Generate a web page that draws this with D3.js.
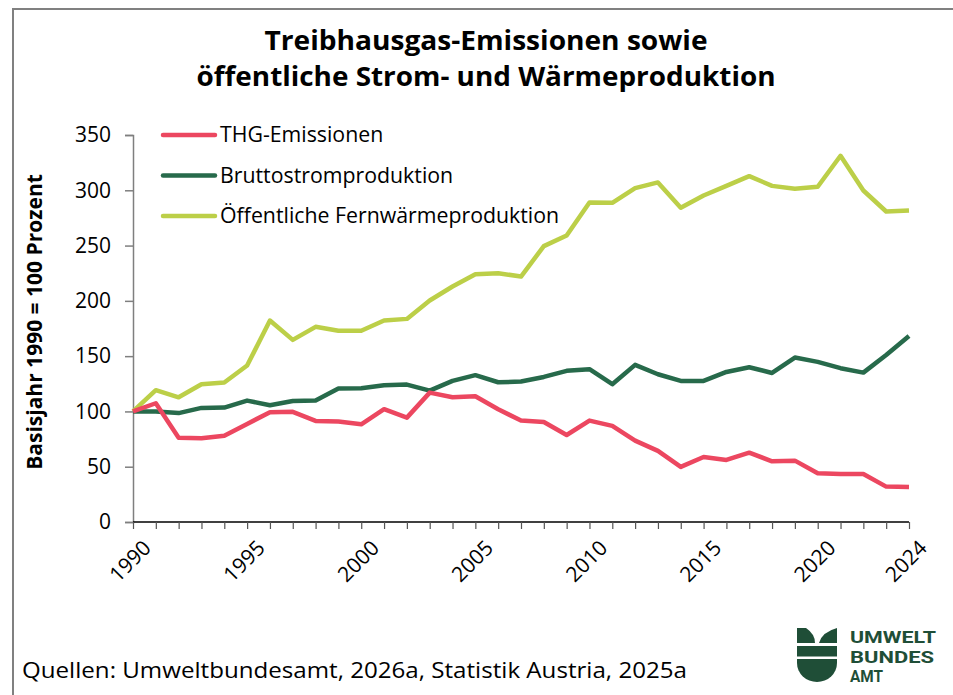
<!DOCTYPE html>
<html>
<head>
<meta charset="utf-8">
<script src="https://cdn.jsdelivr.net/npm/d3@7"></script>
<style>
  body { margin: 0; background: #fff; }
  svg { display: block; font-family: 'Open Sans', sans-serif; }
</style>
</head>
<body>
<svg width="953" height="695"></svg>
<script>
const years = d3.range(1990, 2025);
const thg = [100, 107.4, 76.3, 75.7, 78.1, 88.7, 99.3, 99.6, 91.4, 90.8, 88.4, 102, 94.4, 117, 112.8, 113.7, 102,
  91.7, 90.5, 78.7, 91.7, 86.9, 73.6, 64.3, 49.8, 58.8, 56.1, 62.7, 54.9, 55.5, 44.1, 43.4, 43.4, 32, 31.7];
const brutto = [100, 100, 98.5, 103.2, 103.5, 109.8, 105.6, 109.5, 109.8, 120.7, 121, 123.7, 124.3, 118.8, 127.6, 132.8, 126.4,
  127, 131.2, 136.7, 138.2, 124.6, 142.1, 133.6, 127.6, 127.6, 135.7, 140, 134.8, 148.7, 144.8, 139.1, 135.1, 151.1, 168.3];
const fern = [100, 119.2, 112.8, 124.6, 126.1, 141.5, 182.2, 164.7, 176.5, 172.9, 172.9, 182.2, 183.7,
  200.3, 213, 224.1, 225, 222, 249.5, 259.1, 289, 288.7, 302, 307.1, 284.2, 295.3, 304, 312.8, 304, 301.4, 303.2, 331.2, 299.8, 280.8, 281.7];
const seriesNames = ['THG-Emissionen', 'Bruttostromproduktion', 'Öffentliche Fernwärmeproduktion'];
const seriesColors = ['#ec4760', '#276a4b', '#bccf48'];
const yTicks = [0, 50, 100, 150, 200, 250, 300, 350];
const xLabels = [1990, 1995, 2000, 2005, 2010, 2015, 2020, 2024];

const svg = d3.select('svg');

// frame lines (top and left)
svg.append('line').attr('x1', 13).attr('x2', 953).attr('y1', 9).attr('y2', 9)
  .attr('stroke', '#808080').attr('stroke-width', 2);
svg.append('line').attr('x1', 13).attr('x2', 13).attr('y1', 8).attr('y2', 695)
  .attr('stroke', '#808080').attr('stroke-width', 2);

// title
const title = ['Treibhausgas-Emissionen sowie', 'öffentliche Strom- und Wärmeproduktion'];
const titleWidths = [443, 579];
title.forEach((t, i) => {
  svg.append('text')
    .attr('x', 486).attr('y', 50 + i * 36)
    .attr('text-anchor', 'middle')
    .attr('font-size', 26).attr('font-weight', 700)
    .attr('textLength', titleWidths[i]).attr('lengthAdjust', 'spacingAndGlyphs')
    .attr('fill', '#000')
    .text(t);
});

const x = d3.scaleLinear().domain([1990, 2024]).range([133, 909]);
const y = d3.scaleLinear().domain([0, 350]).range([522, 135]);

// y axis
const yAxisG = svg.append('g')
  .attr('transform', 'translate(133,0)')
  .call(d3.axisLeft(y).tickValues(yTicks).tickSize(8).tickPadding(14));
yAxisG.select('.domain').attr('stroke', '#7f7f7f').attr('stroke-width', 1.5);
yAxisG.selectAll('.tick line').attr('stroke', '#7f7f7f').attr('stroke-width', 1.5);
yAxisG.selectAll('.tick text').attr('font-size', 21).attr('fill', '#000')
  .attr('font-family', "'Open Sans', sans-serif");

svg.append('text')
  .attr('transform', 'translate(42,322) rotate(-90)')
  .attr('text-anchor', 'middle')
  .attr('font-size', 21).attr('font-weight', 700)
  .text('Basisjahr 1990 = 100 Prozent');

// x axis
const xAxisG = svg.append('g')
  .attr('transform', 'translate(0,522)')
  .call(d3.axisBottom(x).tickValues(years).tickSize(7).tickFormat(''));
xAxisG.select('.domain').attr('stroke', '#000').attr('stroke-width', 1.5).attr('d', `M${x(1990)},0H${x(2024)}`);
xAxisG.selectAll('.tick line').attr('stroke', '#555').attr('stroke-width', 1.2);

svg.append('g').selectAll('text').data(xLabels).enter().append('text')
  .attr('transform', d => `translate(${x(d) + 14},${544}) rotate(-45)`)
  .attr('text-anchor', 'end')
  .attr('dy', '0.35em')
  .attr('font-size', 21)
  .text(d => d);

// lines
const line = d3.line().x((d, i) => x(years[i])).y(d => y(d));
const allSeries = [thg, brutto, fern];
// draw in order: light green, dark green, red on top
[2, 1, 0].forEach(k => {
  svg.append('path')
    .datum(allSeries[k])
    .attr('d', line)
    .attr('fill', 'none')
    .attr('stroke', seriesColors[k])
    .attr('stroke-width', 4.5)
    .attr('stroke-linejoin', 'round');
});

// legend
const legendG = svg.append('g');
seriesNames.forEach((name, i) => {
  const ly = 135 + i * 40.5;
  legendG.append('line')
    .attr('x1', 163).attr('x2', 215).attr('y1', ly).attr('y2', ly)
    .attr('stroke', seriesColors[i]).attr('stroke-width', 4.5).attr('stroke-linecap', 'round');
  legendG.append('text')
    .attr('x', 220).attr('y', ly).attr('dy', '0.35em')
    .attr('font-size', 21.3)
    .text(name);
});

// source
svg.append('text')
  .attr('x', 22).attr('y', 678)
  .attr('font-size', 22)
  .attr('textLength', 665).attr('lengthAdjust', 'spacingAndGlyphs')
  .text('Quellen: Umweltbundesamt, 2026a, Statistik Austria, 2025a');

// logo
const logoColor = '#1f4e37';
const logo = svg.append('g').attr('fill', logoColor);
logo.append('path').attr('d', 'M797,628 L806,628 Q815,634 815,643 L797,643 Z');
logo.append('path').attr('d', 'M837,628 L837,643 L819,643 Q822,632 837,628 Z');
logo.append('rect').attr('x', 797).attr('y', 646).attr('width', 40).attr('height', 10.5);
logo.append('path').attr('d', 'M797,659 L837,659 L837,663 A20,19 0 0 1 797,663 Z');
const logoWords = ['UMWELT', 'BUNDES', 'AMT'];
const logoWidths = [86, 84, 33];
logoWords.forEach((w, i) => {
  logo.append('text')
    .attr('x', 850).attr('y', 643 + i * 19.5)
    .attr('font-family', 'Roboto, sans-serif')
    .attr('font-size', 16.5).attr('font-weight', 700)
    .attr('textLength', logoWidths[i]).attr('lengthAdjust', 'spacingAndGlyphs')
    .text(w);
});
</script>
</body>
</html>
